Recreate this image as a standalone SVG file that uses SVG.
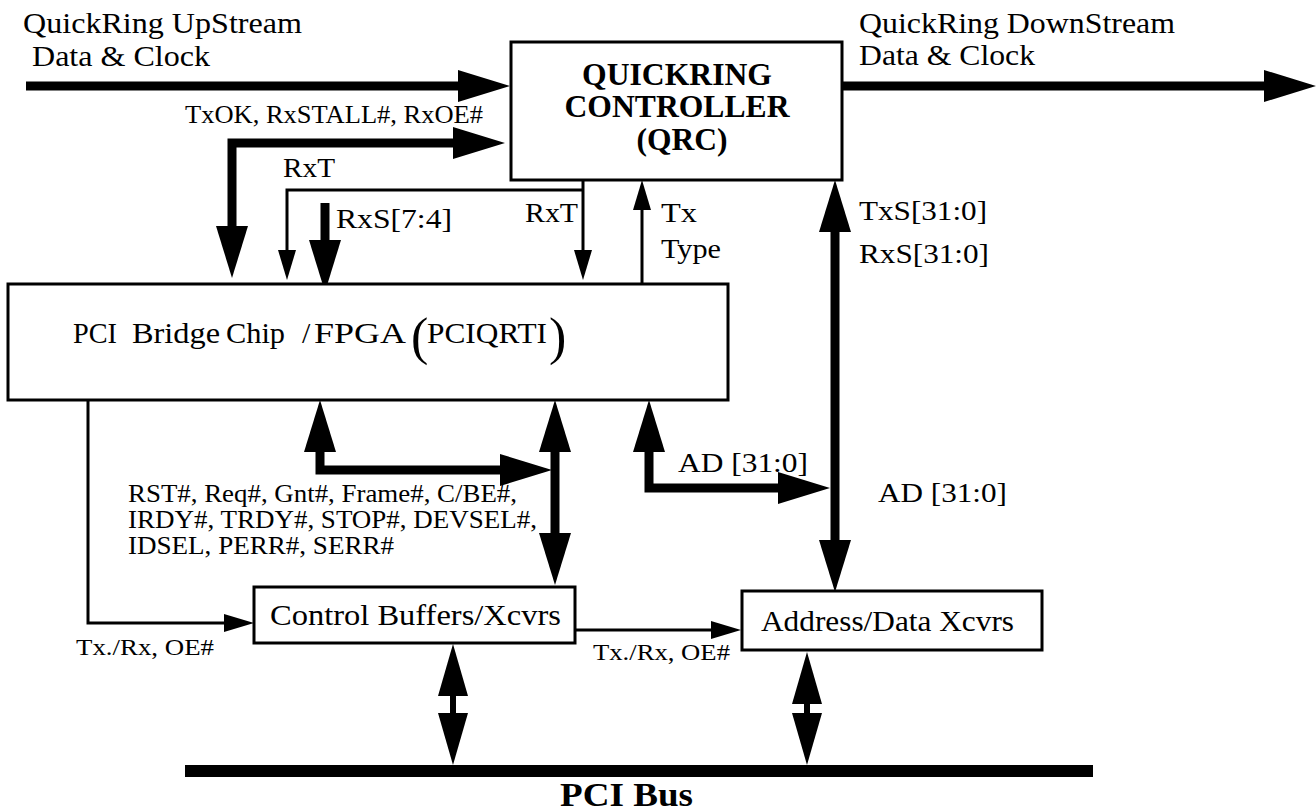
<svg xmlns="http://www.w3.org/2000/svg" width="1316" height="812" viewBox="0 0 1316 812">
<style>
.box{fill:#fff;stroke:#000;stroke-width:3}
.t{font-family:"Liberation Serif","Times New Roman",serif;fill:#000}
.b{font-weight:bold}
.thick{fill:none;stroke:#000;stroke-width:9}
.thin{fill:none;stroke:#000;stroke-width:3}
.bus{fill:none;stroke:#000;stroke-width:6}
</style>
<defs>
<marker id="big" viewBox="0 -16 52 32" refX="0" refY="0" markerWidth="52" markerHeight="32" markerUnits="userSpaceOnUse" orient="auto-start-reverse"><path d="M0,-16 L52,0 L0,16 z" fill="#000"/></marker>
<marker id="sm" viewBox="0 -9 30 18" refX="0" refY="0" markerWidth="30" markerHeight="18" markerUnits="userSpaceOnUse" orient="auto-start-reverse"><path d="M0,-9 L30,0 L0,9 z" fill="#000"/></marker>
<marker id="bh" viewBox="0 -15 52 30" refX="0" refY="0" markerWidth="52" markerHeight="30" markerUnits="userSpaceOnUse" orient="auto-start-reverse"><path d="M0,-15 L52,0 L0,15 z" fill="#000"/></marker>
</defs>
<rect width="1316" height="812" fill="#fff"/>

<g id="connectors">
<path class="thick" d="M26,86 H458" marker-end="url(#big)"/>
<path class="thick" d="M842,86 H1264" marker-end="url(#big)"/>
<path class="thick" stroke-width="8" d="M232,226 V143 H453" marker-start="url(#big)" marker-end="url(#big)"/>
<path class="thin" d="M583,180 V250" marker-end="url(#sm)"/>
<path class="thin" d="M583,190 H287 V250" marker-end="url(#sm)"/>
<path class="thick" d="M325,203 V240" marker-end="url(#big)"/>
<path class="thin" d="M642,284 V210" marker-end="url(#sm)"/>
<path class="thick" d="M835,232 V540" marker-start="url(#big)" marker-end="url(#big)"/>
<path class="thick" d="M320,452 V470 H500" marker-start="url(#big)" marker-end="url(#big)"/>
<path class="thick" stroke-width="8" d="M555,452 V533" marker-start="url(#big)" marker-end="url(#big)"/>
<path class="thick" d="M649,452 V488 H778" marker-start="url(#big)" marker-end="url(#big)"/>
<path class="thin" d="M88,400 V623 H224" marker-end="url(#sm)"/>
<path class="thin" stroke-width="4" d="M575,630 H711" marker-end="url(#sm)"/>
<path class="bus" d="M453,696 V713" marker-start="url(#bh)" marker-end="url(#bh)"/>
<path class="bus" d="M807,704 V713" marker-start="url(#bh)" marker-end="url(#bh)"/>
<rect x="185" y="765" width="908" height="12" fill="#000"/>
</g>

<g id="labels">
<text class="t" x="23" y="33" font-size="29" textLength="279" lengthAdjust="spacingAndGlyphs">QuickRing UpStream</text>
<text class="t" x="32" y="66" font-size="29" textLength="178" lengthAdjust="spacingAndGlyphs">Data &amp; Clock</text>
<text class="t" x="859" y="33" font-size="29" textLength="316" lengthAdjust="spacingAndGlyphs">QuickRing DownStream</text>
<text class="t" x="859" y="65" font-size="29" textLength="176" lengthAdjust="spacingAndGlyphs">Data &amp; Clock</text>
<text class="t" x="185" y="123" font-size="25" textLength="298" lengthAdjust="spacingAndGlyphs">TxOK, RxSTALL#, RxOE#</text>
<text class="t" x="283" y="177" font-size="28" textLength="52" lengthAdjust="spacingAndGlyphs">RxT</text>
<text class="t" x="336" y="228" font-size="28" textLength="116" lengthAdjust="spacingAndGlyphs">RxS[7:4]</text>
<text class="t" x="525" y="222" font-size="28" textLength="53" lengthAdjust="spacingAndGlyphs">RxT</text>
<text class="t" x="661" y="222" font-size="28" textLength="36" lengthAdjust="spacingAndGlyphs">Tx</text>
<text class="t" x="661" y="258" font-size="28" textLength="60" lengthAdjust="spacingAndGlyphs">Type</text>
<text class="t" x="859" y="220" font-size="28" textLength="128" lengthAdjust="spacingAndGlyphs">TxS[31:0]</text>
<text class="t" x="859" y="263" font-size="28" textLength="130" lengthAdjust="spacingAndGlyphs">RxS[31:0]</text>
<text class="t" x="128" y="502" font-size="25" textLength="389" lengthAdjust="spacingAndGlyphs">RST#, Req#, Gnt#, Frame#, C/BE#,</text>
<text class="t" x="128" y="528" font-size="25" textLength="409" lengthAdjust="spacingAndGlyphs">IRDY#, TRDY#, STOP#, DEVSEL#,</text>
<text class="t" x="128" y="554" font-size="25" textLength="266" lengthAdjust="spacingAndGlyphs">IDSEL, PERR#, SERR#</text>
<text class="t" x="678" y="472" font-size="28" textLength="130" lengthAdjust="spacingAndGlyphs">AD [31:0]</text>
<text class="t" x="878" y="502" font-size="28" textLength="129" lengthAdjust="spacingAndGlyphs">AD [31:0]</text>
<text class="t" x="76" y="655" font-size="23" textLength="138" lengthAdjust="spacingAndGlyphs">Tx./Rx, OE#</text>
<text class="t" x="593" y="660" font-size="23" textLength="137" lengthAdjust="spacingAndGlyphs">Tx./Rx, OE#</text>
<text class="t b" x="560" y="806" font-size="33" textLength="133" lengthAdjust="spacingAndGlyphs">PCI Bus</text>
</g>

<g id="qrc">
<rect class="box" x="511" y="42" width="331" height="138"/>
<text class="t b" x="677" y="85" font-size="31" text-anchor="middle" textLength="190" lengthAdjust="spacingAndGlyphs">QUICKRING</text>
<text class="t b" x="677" y="117" font-size="31" text-anchor="middle" textLength="225" lengthAdjust="spacingAndGlyphs">CONTROLLER</text>
<text class="t b" x="682" y="150" font-size="31" text-anchor="middle" textLength="91" lengthAdjust="spacingAndGlyphs">(QRC)</text>
</g>

<g id="pcibridge">
<rect class="box" x="8" y="284" width="720" height="116"/>
<text class="t" x="73" y="343" font-size="30" textLength="44" lengthAdjust="spacingAndGlyphs">PCI</text>
<text class="t" x="132" y="343" font-size="30" textLength="88" lengthAdjust="spacingAndGlyphs">Bridge</text>
<text class="t" x="226" y="343" font-size="30" textLength="59" lengthAdjust="spacingAndGlyphs">Chip</text>
<text class="t" x="302" y="343" font-size="30">/</text>
<text class="t" x="314" y="343" font-size="30" textLength="92" lengthAdjust="spacingAndGlyphs">FPGA</text>
<text class="t" x="411" y="354" font-size="52">(</text>
<text class="t" x="427" y="343" font-size="30" textLength="120" lengthAdjust="spacingAndGlyphs">PCIQRTI</text>
<text class="t" x="549" y="354" font-size="52">)</text>
</g>

<g id="ctrlbuf">
<rect class="box" x="254" y="587" width="321" height="56"/>
<text class="t" x="270" y="625" font-size="29" textLength="291" lengthAdjust="spacingAndGlyphs">Control Buffers/Xcvrs</text>
</g>

<g id="adxcvr">
<rect class="box" x="742" y="591" width="300" height="59"/>
<text class="t" x="761" y="631" font-size="29" textLength="253" lengthAdjust="spacingAndGlyphs">Address/Data Xcvrs</text>
</g>
</svg>
